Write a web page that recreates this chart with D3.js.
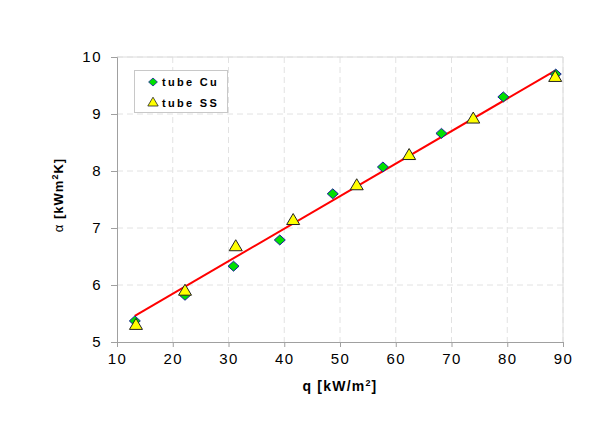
<!DOCTYPE html>
<html><head><meta charset="utf-8">
<script src="https://cdn.jsdelivr.net/npm/d3@7"></script>
<style>body{margin:0;background:#fff}svg{display:block}text{font-family:"Liberation Sans",Arial,sans-serif}</style>
</head><body>
<svg id="c" width="600" height="437"></svg>
<script>
const cuQ = [13.2, 22.2, 30.9, 39.2, 48.7, 57.7, 68.2, 79.3, 88.7];
const cuAlpha = [5.37, 5.82, 6.33, 6.79, 7.60, 8.07, 8.66, 9.30, 9.70];
const ssQ = [13.4, 22.2, 31.3, 41.6, 53.0, 62.4, 73.9, 88.6];
const ssAlpha = [5.30, 5.90, 6.68, 7.14, 7.75, 8.28, 8.92, 9.65];
const fitQ = [13.2, 88.6];
const fitAlpha = [5.46, 9.76];
const xTicks = [10, 20, 30, 40, 50, 60, 70, 80, 90];
const yTicks = [5, 6, 7, 8, 9, 10];
const seriesNames = ["tube Cu", "tube SS"];

const svg = d3.select("#c");
const x = d3.scaleLinear().domain([10, 90]).range([117, 563]);
const y = d3.scaleLinear().domain([5, 10]).range([342, 57]);

// gridlines
svg.append("g").selectAll("line").data(xTicks.slice(1)).join("line")
  .attr("x1", d => x(d)).attr("x2", d => x(d)).attr("y1", y(10)).attr("y2", y(5))
  .attr("stroke", "#e2e2e2").attr("stroke-dasharray", "6,4");
svg.append("g").selectAll("line").data(yTicks.slice(1)).join("line")
  .attr("x1", x(10)).attr("x2", x(90)).attr("y1", d => y(d)).attr("y2", d => y(d))
  .attr("stroke", "#e2e2e2").attr("stroke-dasharray", "6,4");
svg.append("path").attr("d", `M${x(10)},${y(10)}H${x(90)}V${y(5)}`)
  .attr("fill", "none").attr("stroke", "#dcdcdc");

// axes
const xAxis = svg.append("g").attr("transform", `translate(0,${y(5)})`)
  .call(d3.axisBottom(x).tickValues(xTicks).tickFormat(d3.format("d")).tickSize(5).tickPadding(6));
const yAxis = svg.append("g").attr("transform", `translate(${x(10)},0)`)
  .call(d3.axisLeft(y).tickValues(yTicks).tickFormat(d3.format("d")).tickSize(6).tickPadding(9));
[xAxis, yAxis].forEach(a => {
  a.select(".domain").attr("stroke", "#a0a0a0");
  a.selectAll(".tick line").attr("stroke", "#a0a0a0");
  a.selectAll(".tick text").attr("font-size", 15).attr("letter-spacing", "1.5px")
    .attr("fill", "#000").attr("font-family", "Liberation Sans, Arial, sans-serif");
});

// fit line
svg.append("line")
  .attr("x1", x(fitQ[0])).attr("y1", y(fitAlpha[0]))
  .attr("x2", x(fitQ[1])).attr("y2", y(fitAlpha[1]))
  .attr("stroke", "#ff0000").attr("stroke-width", 2);

const diamond = "M0,-5L5.5,0L0,5L-5.5,0Z";
const tri = "M0,-6L6.5,5L-6.5,5Z";

svg.append("g").selectAll("path").data(cuQ.map((q, i) => [q, cuAlpha[i]])).join("path")
  .attr("d", diamond).attr("transform", d => `translate(${x(d[0])},${y(d[1])})`)
  .attr("fill", "#00e000").attr("stroke", "#1a1aa0").attr("stroke-width", 1);
svg.append("g").selectAll("path").data(ssQ.map((q, i) => [q, ssAlpha[i]])).join("path")
  .attr("d", tri).attr("transform", d => `translate(${x(d[0])},${y(d[1]) - 0.5})`)
  .attr("fill", "#ffff00").attr("stroke", "#222").attr("stroke-width", 1);

// legend
const lg = svg.append("g");
lg.append("rect").attr("x", 134.5).attr("y", 70.5).attr("width", 93).attr("height", 42)
  .attr("fill", "#fff").attr("stroke", "#c8c8c8");
lg.append("path").attr("d", diamond).attr("transform", "translate(153,82) scale(0.8)")
  .attr("fill", "#00e000").attr("stroke", "#1a1aa0");
lg.append("path").attr("d", tri).attr("transform", "translate(153,102) scale(0.8)")
  .attr("fill", "#ffff00").attr("stroke", "#222");
lg.selectAll("text").data(seriesNames).join("text")
  .attr("x", 162).attr("y", (d, i) => 86 + i * 20.5)
  .attr("font-size", 11).attr("font-weight", "bold").attr("letter-spacing", "2.3px")
  .text(d => d);

// axis titles
const xt = svg.append("text").attr("x", 340).attr("y", 391).attr("text-anchor", "middle")
  .attr("font-size", 14).attr("font-weight", "bold").attr("letter-spacing", "1.2px");
xt.append("tspan").text("q [kW/m");
xt.append("tspan").attr("font-size", 9).attr("dy", -5).text("2");
xt.append("tspan").attr("dy", 5).text("]");

const yt = svg.append("text").attr("transform", "translate(63,195) rotate(-90)")
  .attr("text-anchor", "middle").attr("font-size", 13).attr("letter-spacing", "1px");
yt.append("tspan").text("α ");
yt.append("tspan").attr("font-weight", "bold").text("[kWm");
yt.append("tspan").attr("font-weight", "bold").attr("font-size", 9).attr("dy", -5).text("2");
yt.append("tspan").attr("font-weight", "bold").attr("dy", 5).text("K]");
</script>
</body></html>
